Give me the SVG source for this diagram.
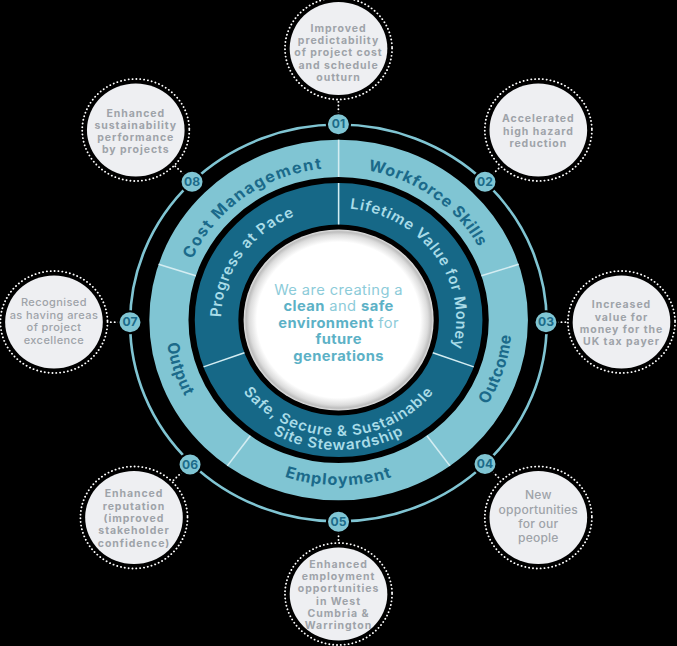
<svg xmlns="http://www.w3.org/2000/svg" width="677" height="646" viewBox="0 0 677 646">
<defs>
<style>
.sat{fill:#eeeff2}
.dot{fill:none;stroke:#ffffff;stroke-width:1.8;stroke-linecap:round;stroke-dasharray:0.1 3.6}
.con{fill:none;stroke:#ffffff;stroke-width:1.8;stroke-linecap:round;stroke-dasharray:0.1 3.6}
.st{font-family:Inter,"Noto Sans","DejaVu Sans",sans-serif;font-size:10px;font-weight:700;fill:#9ea3a9;text-anchor:middle;letter-spacing:0.9px}
.sr{font-family:Inter,"Noto Sans","DejaVu Sans",sans-serif;font-size:10.5px;font-weight:500;fill:#9ea3a9;text-anchor:middle;letter-spacing:0.4px}
.sr4{font-size:11.5px;letter-spacing:0.2px}
.badge{fill:#80c5d3;stroke:#000;stroke-width:2}
.bt{font-family:Inter,"Noto Sans",sans-serif;font-size:11.5px;font-weight:700;fill:#1c6b89;text-anchor:middle}
.lt{font-family:Inter,"Noto Sans",sans-serif;font-size:15.5px;font-weight:700;fill:#1b6a8a;letter-spacing:0.7px}
.dt{font-family:Inter,"Noto Sans",sans-serif;font-size:14.5px;font-weight:600;fill:#a9dce8;letter-spacing:0.8px}
.div{stroke:#d4edf2;stroke-width:1.5}
.ct{font-family:Inter,"Noto Sans",sans-serif;font-size:14px;font-weight:400;fill:#8ccbd9;text-anchor:middle;letter-spacing:0.4px}
.cb{font-weight:700;fill:#5cb1c6}
</style>
<radialGradient id="wg" cx="0.5" cy="0.5" r="0.5">
<stop offset="0" stop-color="#ffffff"/>
<stop offset="0.86" stop-color="#ffffff"/>
<stop offset="0.94" stop-color="#dcdcdc"/>
<stop offset="0.975" stop-color="#bdbdbd"/>
<stop offset="1" stop-color="#e4e4e4"/>
</radialGradient>
<path id="pLO" d="M322.5,472 A152,152 0 1 1 322.5,168 A152,152 0 1 1 322.5,472"/>
<path id="pLI" d="M322.5,155 A165,165 0 1 0 322.5,485 A165,165 0 1 0 322.5,155"/>
<path id="pDO" d="M322.5,432 A112,112 0 1 1 322.5,208 A112,112 0 1 1 322.5,432"/>
<path id="pS1" d="M322.5,204 A116,116 0 1 0 322.5,436 A116,116 0 1 0 322.5,204"/>
<path id="pS2" d="M322.5,190 A130,130 0 1 0 322.5,450 A130,130 0 1 0 322.5,190"/>
</defs>
<rect width="677" height="646" fill="#000"/>
<g transform="scale(1.05,1)">
<g id="wheel">
<circle cx="322.3" cy="323" r="198.4" fill="none" stroke="#80c5d3" stroke-width="2.5"/>
<circle cx="322.5" cy="320" r="161.65" fill="none" stroke="#80c5d3" stroke-width="37.3"/>
<circle cx="322.5" cy="320" r="116.25" fill="none" stroke="#166887" stroke-width="41.5"/>
<circle cx="322.5" cy="320" r="90.5" fill="url(#wg)"/>
<g id="dividers">
<line class="div" x1="322.5" y1="177" x2="322.5" y2="139.7"/>
<line class="div" x1="458.5" y1="275.8" x2="494" y2="264.3"/>
<line class="div" x1="406.6" y1="435.7" x2="428.5" y2="465.9"/>
<line class="div" x1="238.4" y1="435.7" x2="216.5" y2="465.9"/>
<line class="div" x1="186.5" y1="275.8" x2="151" y2="264.3"/>
<line class="div" x1="322.5" y1="224.5" x2="322.5" y2="183"/>
<line class="div" x1="412.2" y1="352.7" x2="451.2" y2="366.9"/>
<line class="div" x1="232.8" y1="352.7" x2="193.8" y2="366.9"/>
</g>
<text class="lt" style="letter-spacing:1.5px"><textPath href="#pLO" startOffset="40%" text-anchor="middle">Cost Management</textPath></text>
<text class="lt"><textPath href="#pLO" startOffset="60%" text-anchor="middle">Workforce Skills</textPath></text>
<text class="lt"><textPath href="#pLI" startOffset="30%" text-anchor="middle">Output</textPath></text>
<text class="lt" style="letter-spacing:1px"><textPath href="#pLI" startOffset="50%" text-anchor="middle">Employment</textPath></text>
<text class="lt"><textPath href="#pLI" startOffset="70%" text-anchor="middle">Outcome</textPath></text>
<text class="dt"><textPath href="#pDO" startOffset="34.7%" text-anchor="middle">Progress at Pace</textPath></text>
<text class="dt"><textPath href="#pDO" startOffset="65.3%" text-anchor="middle">Lifetime Value for Money</textPath></text>
<text class="dt"><textPath href="#pS1" startOffset="50%" text-anchor="middle">Safe, Secure &amp; Sustainable</textPath></text>
<text class="dt"><textPath href="#pS2" startOffset="50%" text-anchor="middle">Site Stewardship</textPath></text>
<text class="ct" x="322.5" y="295">We are creating a</text>
<text class="ct" x="322.5" y="311.5"><tspan class="cb">clean</tspan> and <tspan class="cb">safe</tspan></text>
<text class="ct" x="322.5" y="328"><tspan class="cb">environment</tspan> for</text>
<text class="ct cb" x="322.5" y="344.5">future</text>
<text class="ct cb" x="322.5" y="361">generations</text>
</g>
<g id="connectors">
<line class="con" x1="322.3" y1="113" x2="322.3" y2="100.5"/>
<line class="con" x1="469.6" y1="173.9" x2="476.3" y2="167"/>
<line class="con" x1="531" y1="322.2" x2="540" y2="322.2"/>
<line class="con" x1="469.5" y1="472" x2="476.9" y2="479.8"/>
<line class="con" x1="322.4" y1="532.5" x2="322.4" y2="542"/>
<line class="con" x1="173.2" y1="472.3" x2="164.5" y2="480.9"/>
<line class="con" x1="113" y1="322.2" x2="102.5" y2="322.2"/>
<line class="con" x1="175" y1="174" x2="166.7" y2="166.1"/>
</g>
<g id="badges">
<g id="badge-01"><circle class="badge" cx="322.3" cy="124.3" r="11"/><text class="bt" x="322.3" y="128.4">01</text></g>
<g id="badge-02"><circle class="badge" cx="461.9" cy="181.7" r="11"/><text class="bt" x="461.9" y="185.8">02</text></g>
<g id="badge-03"><circle class="badge" cx="520" cy="322.3" r="11"/><text class="bt" x="520" y="326.4">03</text></g>
<g id="badge-04"><circle class="badge" cx="461.9" cy="464" r="11"/><text class="bt" x="461.9" y="468.1">04</text></g>
<g id="badge-05"><circle class="badge" cx="322.4" cy="521.7" r="11"/><text class="bt" x="322.4" y="525.8">05</text></g>
<g id="badge-06"><circle class="badge" cx="181" cy="464.5" r="11"/><text class="bt" x="181" y="468.6">06</text></g>
<g id="badge-07"><circle class="badge" cx="123.8" cy="322.3" r="11"/><text class="bt" x="123.8" y="326.4">07</text></g>
<g id="badge-08"><circle class="badge" cx="182.9" cy="181.7" r="11"/><text class="bt" x="182.9" y="185.8">08</text></g>
</g>
<g id="node-01">
<circle class="dot" cx="322.4" cy="48.5" r="51"/><circle class="sat" cx="322.4" cy="48.5" r="46.5"/>
<text class="st" x="322.4" y="32">Improved</text>
<text class="st" x="322.4" y="44.3">predictability</text>
<text class="st" x="322.4" y="56.5">of project cost</text>
<text class="st" x="322.4" y="68.8">and schedule</text>
<text class="st" x="322.4" y="81">outturn</text>
</g>
<g id="node-02">
<circle class="dot" cx="512.7" cy="130" r="51"/><circle class="sat" cx="512.7" cy="130" r="46.5"/>
<text class="st" x="512.7" y="122.5">Accelerated</text>
<text class="st" x="512.7" y="134.7">high hazard</text>
<text class="st" x="512.7" y="146.9">reduction</text>
</g>
<g id="node-03">
<circle class="dot" cx="591.9" cy="322" r="51"/><circle class="sat" cx="591.9" cy="322" r="46.5"/>
<text class="st" x="591.9" y="308.5">Increased</text>
<text class="st" x="591.9" y="320.8">value for</text>
<text class="st" x="591.9" y="333.1">money for the</text>
<text class="st" x="591.9" y="345.4">UK tax payer</text>
</g>
<g id="node-04">
<circle class="dot" cx="512.7" cy="517.5" r="51"/><circle class="sat" cx="512.7" cy="517.5" r="46.5"/>
<text class="sr sr4" x="512.7" y="499.5">New</text>
<text class="sr sr4" x="512.7" y="513.7">opportunities</text>
<text class="sr sr4" x="512.7" y="527.9">for our</text>
<text class="sr sr4" x="512.7" y="542.1">people</text>
</g>
<g id="node-05">
<circle class="dot" cx="322.4" cy="594" r="51"/><circle class="sat" cx="322.4" cy="594" r="46.5"/>
<text class="st" x="322.4" y="568">Enhanced</text>
<text class="st" x="322.4" y="580.2">employment</text>
<text class="st" x="322.4" y="592.4">opportunities</text>
<text class="st" x="322.4" y="604.6">in West</text>
<text class="st" x="322.4" y="616.8">Cumbria &amp;</text>
<text class="st" x="322.4" y="629">Warrington</text>
</g>
<g id="node-06">
<circle class="dot" cx="127.6" cy="517.5" r="51"/><circle class="sat" cx="127.6" cy="517.5" r="46.5"/>
<text class="st" x="127.6" y="497.5">Enhanced</text>
<text class="st" x="127.6" y="509.8">reputation</text>
<text class="st" x="127.6" y="522.1">(improved</text>
<text class="st" x="127.6" y="534.4">stakeholder</text>
<text class="st" x="127.6" y="546.7">confidence)</text>
</g>
<g id="node-07">
<circle class="dot" cx="51.4" cy="322" r="51"/><circle class="sat" cx="51.4" cy="322" r="46.5"/>
<text class="sr" x="51.4" y="306">Recognised</text>
<text class="sr" x="51.4" y="318.6">as having areas</text>
<text class="sr" x="51.4" y="331.2">of project</text>
<text class="sr" x="51.4" y="343.8">excellence</text>
</g>
<g id="node-08">
<circle class="dot" cx="129.3" cy="130" r="51"/><circle class="sat" cx="129.3" cy="130" r="46.5"/>
<text class="st" x="129.3" y="117">Enhanced</text>
<text class="st" x="129.3" y="129">sustainability</text>
<text class="st" x="129.3" y="141.2">performance</text>
<text class="st" x="129.3" y="153.4">by projects</text>
</g>
</g>
</svg>
